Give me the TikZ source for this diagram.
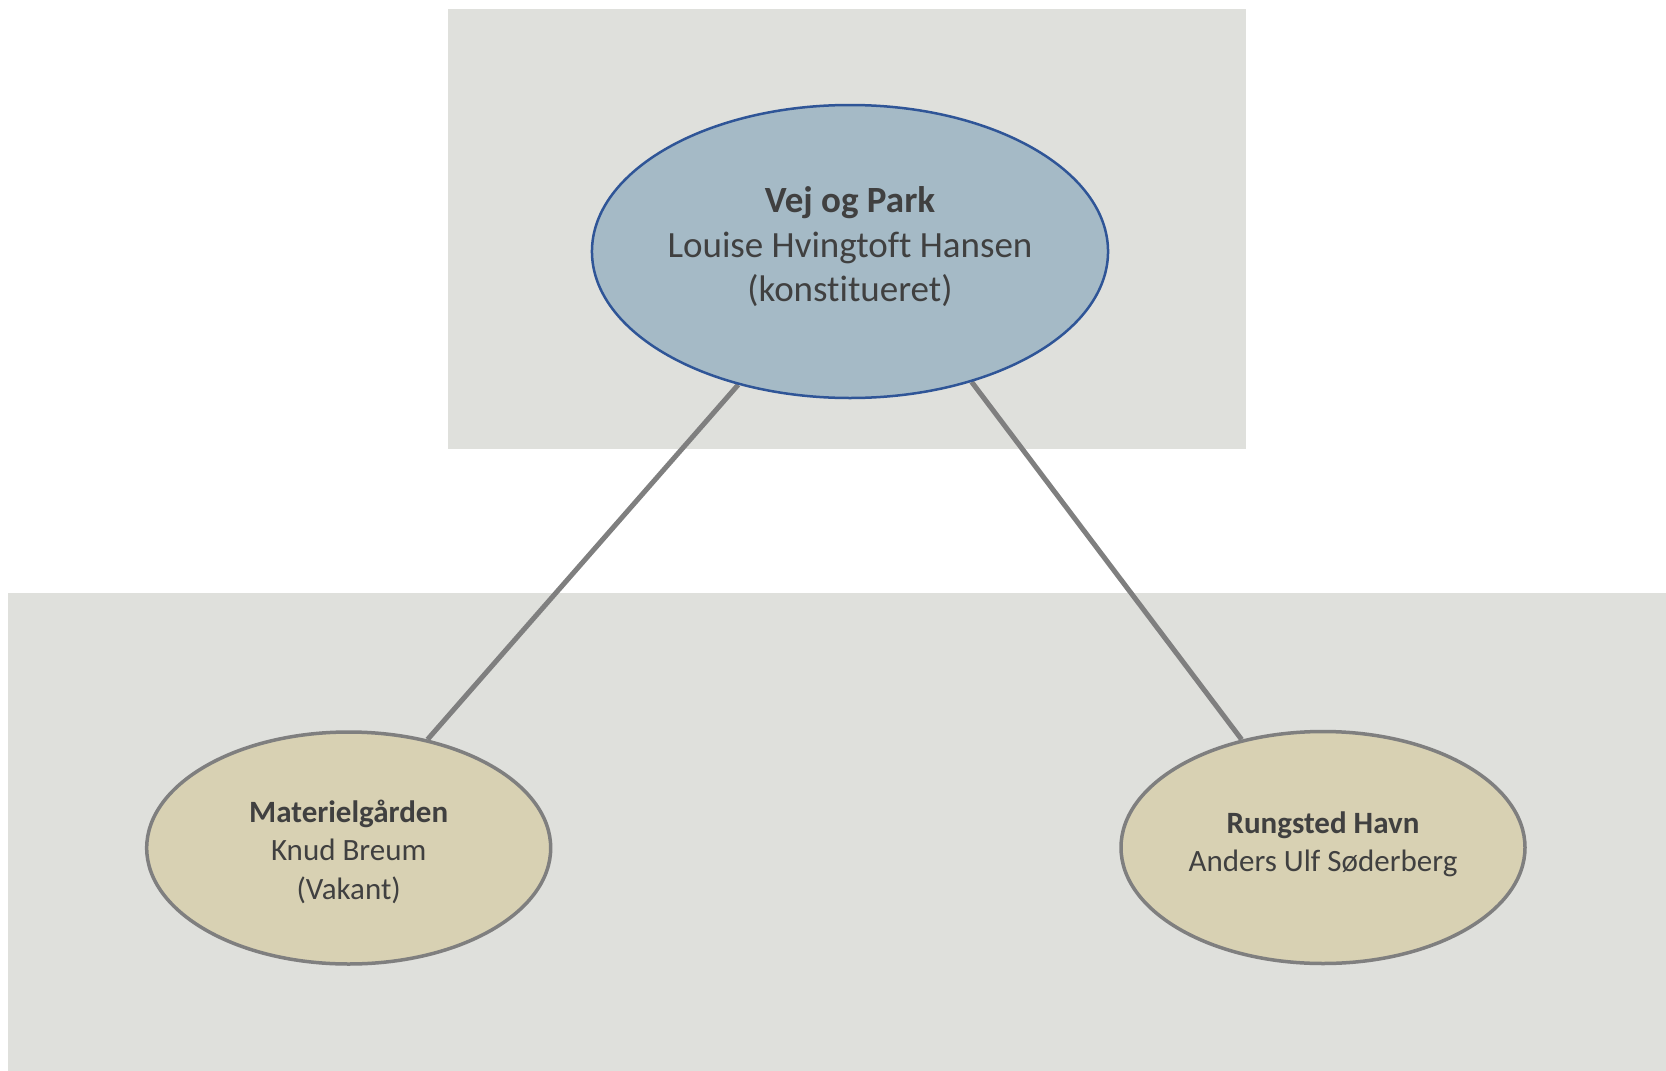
\documentclass[tikz,border=0pt]{standalone}
\usepackage{fontspec}
\setmainfont{Carlito}[RawFeature={-liga;-clig;-dlig}]
\usetikzlibrary{shapes.geometric,backgrounds}
\definecolor{bgpanel}{HTML}{DFE0DC}
\definecolor{topfill}{HTML}{A5BAC6}
\definecolor{topline}{HTML}{2F5597}
\definecolor{subfill}{HTML}{D8D1B3}
\definecolor{grayline}{HTML}{7F7F7F}
\definecolor{txt}{HTML}{404040}
\tikzset{
  panel/.style={fill=bgpanel, draw=none},
  topell/.style={ellipse, fill=topfill, draw=topline, line width=2.5pt,
    minimum width=512pt, minimum height=293pt, inner sep=0pt,
    text=txt, align=center, font=\fontsize{37}{44.5}\selectfont},
  subell/.style={ellipse, fill=subfill, draw=grayline, line width=3.5pt,
    minimum width=404pt, minimum height=232pt, inner sep=0pt,
    text=txt, align=center, font=\fontsize{31}{38.5}\selectfont},
  conn/.style={draw=grayline, line width=5pt}
}
\begin{document}
\begin{tikzpicture}[x=1pt,y=-1pt]
\useasboundingbox (0,0) rectangle (1666,1071);
\node[topell] (top) at (850,251.5) {\textbf{Vej og Park}\\Louise Hvingtoft Hansen\\(konstitueret)\rule[-14pt]{0pt}{0pt}};
\node[subell] (left) at (348.7,848) {\rule{0pt}{30pt}\textbf{Materielgården}\\Knud Breum\\(Vakant)};
\node[subell] (right) at (1323,847.5) {\textbf{Rungsted Havn}\\Anders Ulf Søderberg\rule[-12pt]{0pt}{0pt}};
\begin{scope}[on background layer]
\fill[panel] (448,9) rectangle (1246,449);
\fill[panel] (8,593) rectangle (1666,1071);
\draw[conn] (top.230.6) -- (left.54.3);
\draw[conn] (top.313.3) -- (right.127.5);
\end{scope}
\end{tikzpicture}
\end{document}
